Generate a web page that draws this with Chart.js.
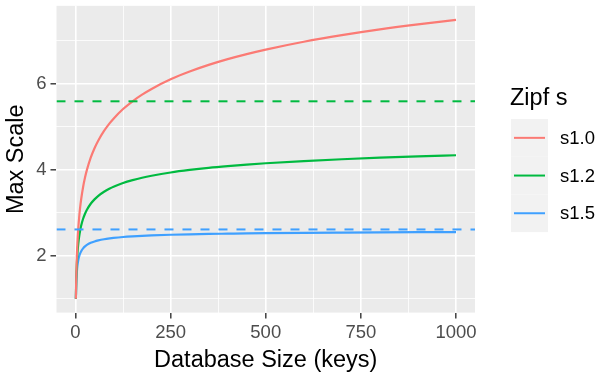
<!DOCTYPE html>
<html>
<head>
<meta charset="utf-8">
<title>Max Scale vs Database Size</title>
<script src="https://cdn.jsdelivr.net/npm/chart.js@4.4.1/dist/chart.umd.min.js"></script>
<style>
    html, body { margin: 0; padding: 0; background: #fff; }
    #wrap { width: 611px; height: 378px; }
</style>
</head>
<body>
<div id="wrap"><canvas id="chart" width="611" height="378"></canvas></div>
<script>
// Data
const sizes = [1, 2, 3, 4, 5, 6, 7, 8, 10, 12, 15, 20, 25, 30, 40, 50, 60, 75, 90, 100, 125, 150, 175, 200, 250, 300, 350, 400, 450, 500, 600, 700, 800, 900, 1000];
const s10 = [1, 1.5, 1.833, 2.083, 2.283, 2.45, 2.593, 2.718, 2.929, 3.103, 3.318, 3.598, 3.816, 3.995, 4.279, 4.499, 4.680, 4.901, 5.083, 5.187, 5.410, 5.591, 5.745, 5.878, 6.101, 6.283, 6.437, 6.571, 6.688, 6.793, 6.976, 7.130, 7.264, 7.381, 7.485];
const s12 = [1, 1.435, 1.703, 1.893, 2.038, 2.155, 2.251, 2.334, 2.468, 2.575, 2.702, 2.858, 2.976, 3.067, 3.207, 3.309, 3.391, 3.486, 3.561, 3.603, 3.690, 3.757, 3.813, 3.859, 3.935, 3.994, 4.043, 4.083, 4.118, 4.149, 4.201, 4.243, 4.278, 4.309, 4.336];
const s15 = [1, 1.354, 1.546, 1.671, 1.760, 1.828, 1.882, 1.926, 1.996, 2.047, 2.105, 2.171, 2.216, 2.250, 2.298, 2.331, 2.355, 2.382, 2.402, 2.413, 2.434, 2.449, 2.461, 2.471, 2.486, 2.497, 2.506, 2.512, 2.518, 2.523, 2.531, 2.537, 2.542, 2.546, 2.549];
const seriesNames = ['s1.0', 's1.2', 's1.5'];
const seriesColors = ['#FB7A74', '#00BA40', '#3FA0FF'];

// Dashed reference lines
const limitValues = [5.59, 2.61];
const limitColors = ['#00BA40', '#3FA0FF'];

// Axes
const xMajor = [0, 250, 500, 750, 1000];
const xMinor = [125, 375, 625, 875];
const yMajor = [2, 4, 6];
const yMinor = [1, 3, 5, 7];
const xRange = [-49.95, 1049.95];
const yRange = [0.676, 7.81];

const FONT = "'Liberation Sans', Arial, Helvetica, sans-serif";

function toPoints(ys) {
    return sizes.map((x, i) => ({ x: x, y: ys[i] }));
}

// grey panel
const panelBg = {
    id: 'panelBg',
    beforeDraw(chart) {
        const { ctx, chartArea: a } = chart;
        ctx.save();
        ctx.fillStyle = '#EBEBEB';
        ctx.fillRect(a.left, a.top, a.right - a.left, a.bottom - a.top);
        ctx.restore();
    }
};

// horizontal dashed lines
const hLines = {
    id: 'hLines',
    afterDatasetsDraw(chart) {
        const { ctx, chartArea: a, scales } = chart;
        ctx.save();
        ctx.beginPath();
        ctx.rect(a.left, a.top, a.right - a.left, a.bottom - a.top);
        ctx.clip();
        ctx.lineWidth = 2;
        ctx.setLineDash([9, 9]);
        limitValues.forEach((v, i) => {
            const y = scales.y.getPixelForValue(v);
            ctx.strokeStyle = limitColors[i];
            ctx.beginPath();
            ctx.moveTo(a.left, y);
            ctx.lineTo(a.right, y);
            ctx.stroke();
        });
        ctx.restore();
    }
};

// ggplot-like legend on the right
const sideLegend = {
    id: 'sideLegend',
    afterDraw(chart) {
        const ctx = chart.ctx;
        const left = 511, top = 119, keyW = 37, keyH = 37.7;
        ctx.save();
        ctx.fillStyle = '#000';
        ctx.font = '23.5px ' + FONT;
        ctx.textBaseline = 'alphabetic';
        ctx.textAlign = 'left';
        ctx.fillText('Zipf s', 510, 105);
        chart.data.datasets.forEach((ds, i) => {
            const y0 = top + i * keyH;
            ctx.fillStyle = '#F2F2F2';
            ctx.fillRect(left, y0, keyW, keyH);
            ctx.strokeStyle = ds.borderColor;
            ctx.lineWidth = 2;
            ctx.beginPath();
            ctx.moveTo(left + 3, y0 + keyH / 2);
            ctx.lineTo(left + keyW - 3, y0 + keyH / 2);
            ctx.stroke();
            ctx.fillStyle = '#000';
            ctx.font = '18.5px ' + FONT;
            ctx.textBaseline = 'middle';
            ctx.fillText(ds.label, 560, y0 + keyH / 2 + 1);
        });
        ctx.restore();
    }
};

function gridOpts(major) {
    return {
        color: '#FFFFFF',
        lineWidth: ctx => major.includes(ctx.tick && ctx.tick.value) ? 1.6 : 0.8,
        drawTicks: true,
        tickLength: 6,
        tickWidth: 1.4,
        tickColor: ctx => major.includes(ctx.tick && ctx.tick.value) ? '#333333' : 'rgba(0,0,0,0)'
    };
}

const datasets = [s10, s12, s15].map((ys, i) => ({
    label: seriesNames[i],
    data: toPoints(ys),
    borderColor: seriesColors[i],
    borderWidth: 2.2,
    pointRadius: 0,
    fill: false,
    cubicInterpolationMode: 'monotone'
}));

new Chart(document.getElementById('chart'), {
    type: 'line',
    data: { datasets: datasets },
    options: {
        responsive: false,
        animation: false,
        devicePixelRatio: 1,
        layout: { padding: { left: 2, right: 136, top: 3, bottom: 3 } },
        plugins: {
            legend: { display: false },
            tooltip: { enabled: false }
        },
        scales: {
            x: {
                type: 'linear',
                min: xRange[0],
                max: xRange[1],
                afterBuildTicks: scale => {
                    scale.ticks = xMajor.concat(xMinor).sort((a, b) => a - b).map(v => ({ value: v }));
                },
                grid: gridOpts(xMajor),
                border: { display: false },
                ticks: {
                    autoSkip: false,
                    maxRotation: 0,
                    padding: 3,
                    color: '#4D4D4D',
                    font: { family: FONT, size: 18.5 },
                    callback: v => xMajor.includes(v) ? String(v) : ''
                },
                title: {
                    display: true,
                    text: 'Database Size (keys)',
                    color: '#000',
                    font: { family: FONT, size: 23.5 },
                    padding: { top: 0, bottom: 0 }
                }
            },
            y: {
                type: 'linear',
                min: yRange[0],
                max: yRange[1],
                afterBuildTicks: scale => {
                    scale.ticks = yMajor.concat(yMinor).sort((a, b) => a - b).map(v => ({ value: v }));
                },
                grid: gridOpts(yMajor),
                border: { display: false },
                ticks: {
                    autoSkip: false,
                    padding: 4,
                    color: '#4D4D4D',
                    font: { family: FONT, size: 18.5, lineHeight: 0.2 },
                    callback: v => yMajor.includes(v) ? String(v) : ''
                },
                title: {
                    display: true,
                    text: 'Max Scale',
                    color: '#000',
                    font: { family: FONT, size: 23.5 },
                    padding: { top: 0, bottom: 2 }
                }
            }
        }
    },
    plugins: [panelBg, hLines, sideLegend]
});
</script>
</body>
</html>
